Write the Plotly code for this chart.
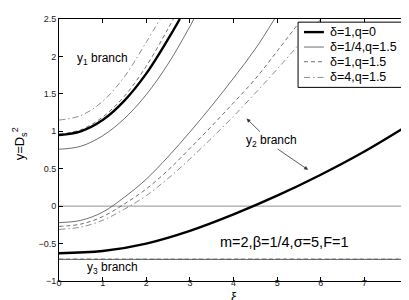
import plotly.graph_objects as go

# ---- data ----
# y1 branch
xi_y1_thick = [0, 0.5, 1, 1.5, 2, 2.5, 2.77]
y1_thick = [0.95, 1.0, 1.15, 1.41, 1.77, 2.23, 2.5]
xi_y1_thin = [0, 0.5, 1, 1.5, 2, 2.5, 3, 3.09]
y1_thin = [0.76, 0.80, 0.94, 1.17, 1.49, 1.90, 2.40, 2.5]
xi_y1_dash = [0, 0.5, 1, 1.5, 2, 2.5, 2.62]
y1_dash = [0.96, 1.02, 1.19, 1.47, 1.87, 2.37, 2.5]
xi_y1_dashdot = [0, 0.5, 1, 1.5, 2, 2.32]
y1_dashdot = [1.15, 1.21, 1.40, 1.73, 2.19, 2.5]

# y2 branch
xi_y2_thick = [0, 1, 2, 3, 4, 5, 6, 7, 8]
y2_thick = [-0.63, -0.60, -0.50, -0.33, -0.11, 0.14, 0.42, 0.73, 1.08]
xi_y2_thin = [0, 0.5, 1, 1.5, 2, 2.5, 3, 3.5, 4, 4.5, 4.94]
y2_thin = [-0.22, -0.19, -0.08, 0.12, 0.36, 0.66, 0.99, 1.34, 1.71, 2.10, 2.5]
xi_y2_dash = [0, 0.5, 1, 1.5, 2, 2.5, 3, 3.5, 4, 4.5, 5, 5.5]
y2_dash = [-0.27, -0.24, -0.14, 0.03, 0.23, 0.48, 0.77, 1.07, 1.38, 1.70, 2.07, 2.45]
xi_y2_dashdot = [0, 0.5, 1, 1.5, 2, 2.5, 3, 3.5, 4, 4.5, 5, 5.5, 6]
y2_dashdot = [-0.31, -0.28, -0.19, -0.04, 0.14, 0.37, 0.63, 0.91, 1.20, 1.51, 1.83, 2.16, 2.5]

# y3 branch
xi_y3 = [0, 8]
y3_thin = [-0.712, -0.712]
y3_dash = [-0.708, -0.708]
y3_dashdot = [-0.71, -0.71]

# zero reference line
xi_zero = [0, 8]
y_zero = [0, 0]

legend_labels = ["δ=1,q=0", "δ=1/4,q=1.5", "δ=1,q=1.5", "δ=4,q=1.5"]
x_ticks = [0, 1, 2, 3, 4, 5, 6, 7, 8]
y_ticks = [-1, -0.5, 0, 0.5, 1, 1.5, 2, 2.5]
y_ticktext = ["−1", "−0.5", "0", "0.5", "1", "1.5", "2", "2.5"]

# ---- styles ----
styles = {
    "thick": dict(color="black", width=2.4, dash="solid"),
    "thin": dict(color="#4a4a4a", width=0.8, dash="solid"),
    "dash": dict(color="#4a4a4a", width=0.8, dash="4px,3px"),
    "dashdot": dict(color="#707070", width=0.8, dash="6px,3px,1.5px,3px"),
}

fig = go.Figure()

def add(x, y, style):
    fig.add_trace(go.Scatter(x=x, y=y, mode="lines",
                             line=dict(shape="spline", smoothing=1.0, **styles[style]),
                             showlegend=False, hoverinfo="skip"))

fig.add_trace(go.Scatter(x=xi_zero, y=y_zero, mode="lines", line=dict(color="#777777", width=0.8),
                         showlegend=False, hoverinfo="skip"))
add(xi_y3, y3_thin, "thin")
add(xi_y3, y3_dash, "dash")
add(xi_y3, y3_dashdot, "dashdot")
add(xi_y1_thin, y1_thin, "thin")
add(xi_y1_dash, y1_dash, "dash")
add(xi_y1_dashdot, y1_dashdot, "dashdot")
add(xi_y2_thin, y2_thin, "thin")
add(xi_y2_dash, y2_dash, "dash")
add(xi_y2_dashdot, y2_dashdot, "dashdot")
add(xi_y1_thick, y1_thick, "thick")
add(xi_y2_thick, y2_thick, "thick")

font_family = "Liberation Sans, Arial, sans-serif"

annotations = [
    dict(x=1.0, y=1.97, xref="x", yref="y", text="y<sub>1</sub> branch", showarrow=False,
         font=dict(size=12, color="black")),
    dict(x=4.87, y=0.87, xref="x", yref="y", text="y<sub>2</sub> branch", showarrow=False,
         font=dict(size=12, color="black")),
    dict(x=1.22, y=-0.83, xref="x", yref="y", text="y<sub>3</sub> branch", showarrow=False,
         font=dict(size=12, color="black")),
    dict(x=5.18, y=-0.48, xref="x", yref="y", text="m=2,β=1/4,σ=5,F=1", showarrow=False,
         font=dict(size=14.5, color="black")),
    dict(x=4.30, y=1.17, xref="x", yref="y", ax=4.64, ay=0.975, axref="x", ayref="y",
         text="", showarrow=True, arrowhead=2, arrowsize=1, arrowwidth=0.8, arrowcolor="#333"),
    dict(x=5.71, y=0.485, xref="x", yref="y", ax=4.98, ay=0.776, axref="x", ayref="y",
         text="", showarrow=True, arrowhead=2, arrowsize=1, arrowwidth=0.8, arrowcolor="#333"),
    # axis titles
    dict(x=0.5, y=-0.061, xref="paper", yref="paper", text="ξ", showarrow=False,
         xanchor="center", yanchor="middle", font=dict(size=13, color="black")),
    dict(x=-0.112, y=0.525, xref="paper", yref="paper", text="y=D<sub>s</sub><sup>2</sup>",
         showarrow=False, textangle=-90, xanchor="center", yanchor="middle",
         font=dict(size=13, color="black")),
]

# ---- manual legend (paper coordinates) ----
shapes = [dict(type="rect", xref="paper", yref="paper", x0=0.685, x1=0.997, y0=0.739, y1=0.988,
               line=dict(color="black", width=1), fillcolor="white", layer="above")]
row_y = [0.950, 0.893, 0.837, 0.777]
for key, ry, lab in zip(["thick", "thin", "dash", "dashdot"], row_y, legend_labels):
    st = styles[key]
    shapes.append(dict(type="line", xref="paper", yref="paper", x0=0.702, x1=0.759, y0=ry, y1=ry,
                       line=dict(color=st["color"], width=st["width"], dash=st["dash"]), layer="above"))
    annotations.append(dict(x=0.771, y=ry, xref="paper", yref="paper", text=lab, showarrow=False,
                            xanchor="left", yanchor="middle", font=dict(size=12.5, color="black")))

axis_common = dict(showline=True, linecolor="black", linewidth=1, mirror="ticks", ticks="inside",
                   ticklen=4, tickcolor="black", showgrid=False, zeroline=False,
                   tickfont=dict(size=9, color="#222"))

fig.update_layout(
    width=409, height=300,
    margin=dict(l=51, r=6, t=7, b=27),
    paper_bgcolor="white", plot_bgcolor="white",
    font=dict(family=font_family, color="black"),
    xaxis=dict(range=[0, 8], tickvals=x_ticks, ticklabelstandoff=-7, **axis_common),
    yaxis=dict(range=[-1, 2.5], tickvals=y_ticks, ticktext=y_ticktext, **axis_common),
    annotations=annotations,
    shapes=shapes,
)

fig.write_html("out.html")
